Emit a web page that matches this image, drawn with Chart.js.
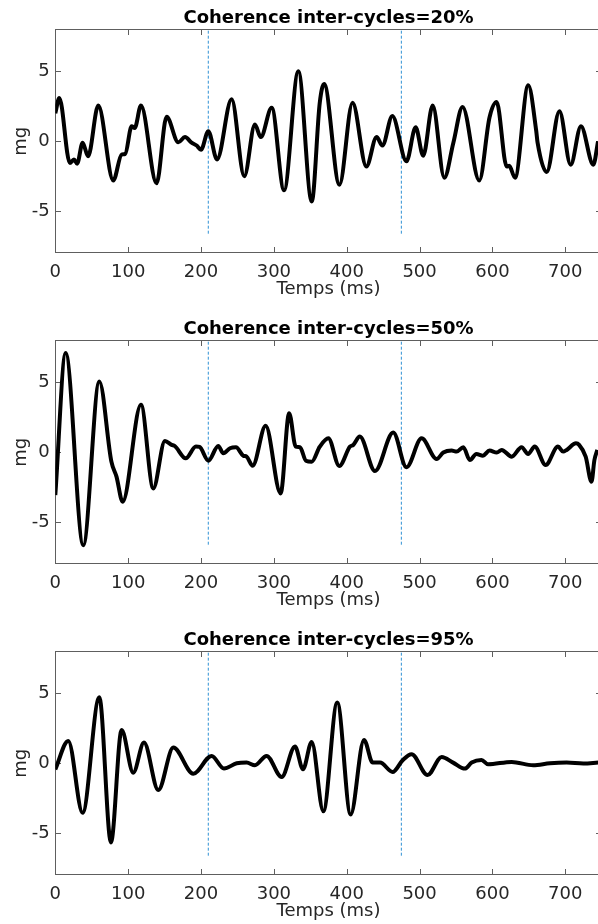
<!DOCTYPE html>
<html>
<head>
<meta charset="utf-8">
<script src="https://cdn.jsdelivr.net/npm/chart.js@4"></script>
<style>
  html, body { margin:0; padding:0; background:#fff; width:598px; height:924px; overflow:hidden; }
  .panel { position:absolute; left:0; width:620px; height:302px; }
  canvas { display:block; }
</style>
</head>
<body>
<div class="panel" style="top:0px"><canvas id="c1" width="620" height="302"></canvas></div>
<div class="panel" style="top:311px"><canvas id="c2" width="620" height="302"></canvas></div>
<div class="panel" style="top:622px"><canvas id="c3" width="620" height="302"></canvas></div>
<script>
// ---- data ----
const titles = ['Coherence inter-cycles=20%', 'Coherence inter-cycles=50%', 'Coherence inter-cycles=95%'];
const xTickValues = [0, 100, 200, 300, 400, 500, 600, 700];
const yTickValues = [-5, 0, 5];
const markerTimes = [210, 475];
const markerRange = [-6.6, 8];

const t20 = [0, 5.5, 20, 25.6, 30, 37.5, 45, 59, 79.6, 91,
             96, 104.8, 109, 117.6, 139, 152.8, 168.8, 178, 187, 194,
             200, 210, 222, 242, 259.4, 274, 282, 297, 314, 333.6,
             352, 363, 369, 390, 408, 427, 441, 449, 462.6, 482,
             494.6, 505, 518, 534, 546.4, 559, 582, 596, 605.8, 619.6,
             623, 631, 649.2, 660, 662, 674.5, 692, 707.4, 721.5, 738.5,
             745];
const v20 = [2.0, 3.1, -1.55, -1.3, -1.6, -0.1, -1.07, 2.55, -2.8, -0.95,
             -0.9, 1.07, 0.95, 2.55, -3.0, 1.75, -0.07, 0.3, -0.1, -0.3,
             -0.6, 0.72, -1.3, 3.0, -2.5, 1.2, 0.3, 2.4, -3.5, 5.0,
             -4.3, 2.75, 4.1, -3.1, 2.75, -1.8, 0.3, -0.3, 1.8, -1.43,
             1.0, -1.03, 2.55, -2.6, -0.1, 2.45, -2.8, 1.7, 2.8, -1.8,
             -1.75, -2.6, 4.0, 0.8, -0.1, -2.2, 2.15, -1.67, 1.07, -1.67,
             0.0];

const t50 = [0, 14.2, 38.4, 60.4, 77, 84, 92.4, 117.6, 134.5, 150.5,
             159.7, 164, 179, 193, 198, 210, 223.7, 230.6, 239.8, 248,
             258, 262.6, 270.9, 288.7, 309.3, 321, 330, 335.9, 344, 352,
             363, 374.8, 389.8, 404.5, 409, 418, 438.8, 463.9, 482, 502.8,
             523.4, 532.6, 544, 551, 560, 569, 578, 587, 596, 606,
             612.7, 626.5, 640, 649, 658, 673, 690, 697, 701.9, 714.7,
             719, 728, 736, 740, 744];
const v50 = [-3.06, 7.1, -6.64, 5.06, -0.67, -1.74, -3.53, 3.39, -2.58, 0.81,
             0.53, 0.45, -0.43, 0.41, 0.38, -0.6, 0.45, -0.07, 0.29, 0.36,
             -0.24, -0.31, -0.96, 1.89, -2.94, 2.79, 0.4, 0.36, -0.6, -0.67,
             0.4, 1.0, -0.98, 0.41, 0.53, 1.12, -1.34, 1.41, -1.07, 1.0,
             -0.48, -0.02, 0.12, 0.05, 0.36, -0.55, -0.12, -0.24, 0.12, -0.02,
             0.17, -0.31, 0.36, -0.12, 0.41, -0.91, 0.41, 0.05, 0.17, 0.64,
             0.53, -0.31, -2.1, -0.55, 0.17];

const t95 = [0, 17.8, 37.5, 60.4, 76.4, 91, 107, 121.7, 141.4, 162,
             189.4, 214.6, 231.5, 249, 262.6, 274, 290, 310.7, 329, 340,
             351.9, 367.9, 387, 405.4, 423.7, 435.7, 445.8, 463, 476.8, 489,
             511, 530.3, 546, 562.3, 571.5, 585, 594, 626.4, 656, 679,
             701.9, 724.8, 745];
const v95 = [-0.43, 1.6, -3.54, 4.71, -5.65, 2.37, -0.67, 1.48, -1.91, 1.12,
             -0.74, 0.53, -0.38, 0.0, 0.05, -0.14, 0.53, -0.98, 1.2, -0.43,
             1.53, -3.42, 4.35, -3.66, 1.67, 0.05, 0.05, -0.62, 0.22, 0.65,
             -0.84, 0.45, 0.05, -0.38, 0.05, 0.24, -0.07, 0.1, -0.14, 0.0,
             0.05, -0.02, 0.05];

// ---- rendering ----
const FONT = 'DejaVu Sans';
const TEXT = '#262626';
const FS = 18;

const matlabAxes = {
  id: 'matlabAxes',
  beforeDatasetsDraw(chart) {
    const {ctx, chartArea: a, scales: {x, y}} = chart;
    const L = Math.round(a.left) + 0.5, R = Math.round(a.right) - 0.5;
    const T = Math.round(a.top) + 0.5, B = Math.round(a.bottom) - 0.5;
    const len = 5.5;
    ctx.save();
    ctx.strokeStyle = '#5e5e5e';
    ctx.lineWidth = 1;
    ctx.strokeRect(L, T, R - L, B - T);
    ctx.beginPath();
    x.ticks.forEach(t => {
      const px = Math.round(x.getPixelForValue(t.value)) + 0.5;
      ctx.moveTo(px, B); ctx.lineTo(px, B - len);
      ctx.moveTo(px, T); ctx.lineTo(px, T + len);
    });
    y.ticks.forEach(t => {
      const py = Math.round(y.getPixelForValue(t.value)) + 0.5;
      ctx.moveTo(L, py); ctx.lineTo(L + len, py);
      ctx.moveTo(R, py); ctx.lineTo(R - len, py);
    });
    ctx.stroke();
    ctx.restore();
  }
};

function makePanel(id, title, times, values) {
  const datasets = [{
    data: times.map((t, i) => ({x: t, y: values[i]})),
    borderColor: '#000',
    borderWidth: 4,
    pointRadius: 0,
    cubicInterpolationMode: 'monotone',
    fill: false
  }];
  markerTimes.forEach(m => datasets.push({
    data: markerRange.map(v => ({x: m, y: v})),
    borderColor: '#2f91d4',
    borderWidth: 1,
    borderDash: [3, 2],
    pointRadius: 0,
    fill: false
  }));
  new Chart(document.getElementById(id), {
    type: 'line',
    data: { datasets },
    options: {
      responsive: false,
      animation: false,
      devicePixelRatio: 1,
      layout: { padding: { left: 0, right: 18.3, top: 0, bottom: 0 } },
      plugins: {
        legend: { display: false },
        tooltip: { enabled: false },
        title: {
          display: true, text: title, color: '#000', fullSize: false,
          font: { family: FONT, size: FS, weight: 'bold', lineHeight: 1.2 },
          padding: { top: 7.5, bottom: 0.2 }
        }
      },
      scales: {
        x: {
          type: 'linear', min: 0, max: 750,
          afterBuildTicks: s => { s.ticks = xTickValues.map(v => ({value: v})); },
          afterFit: s => { s.height = 48.7; },
          grid: { display: false, drawTicks: false },
          border: { display: false },
          ticks: { color: TEXT, font: { family: FONT, size: FS, lineHeight: 1.2 }, padding: 8.6, maxRotation: 0, autoSkip: false },
          title: { display: true, text: 'Temps (ms)', color: TEXT, font: { family: FONT, size: FS, lineHeight: 1.2 }, padding: { top: 0, bottom: 2.2 } }
        },
        y: {
          type: 'linear', min: -8, max: 8,
          afterBuildTicks: s => { s.ticks = yTickValues.map(v => ({value: v})); },
          afterFit: s => { s.width = 55.3; },
          grid: { display: false, drawTicks: false },
          border: { display: false },
          ticks: { color: TEXT, font: { family: FONT, size: FS, lineHeight: 1.2 }, padding: 5.5 },
          title: { display: true, text: 'mg', color: TEXT, font: { family: FONT, size: FS, lineHeight: 1.2 }, padding: { top: 10.1, bottom: 0 } }
        }
      }
    },
    plugins: [matlabAxes]
  });
}

makePanel('c1', titles[0], t20, v20);
makePanel('c2', titles[1], t50, v50);
makePanel('c3', titles[2], t95, v95);
</script>
</body>
</html>
